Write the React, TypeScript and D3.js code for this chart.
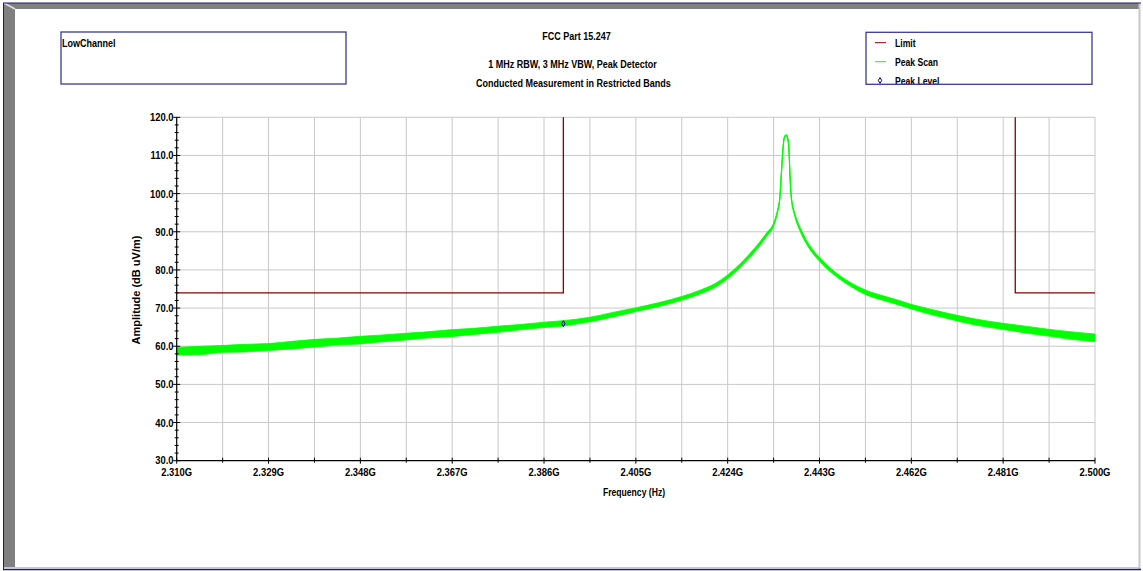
import React from "react";
import * as d3 from "d3";

// ---------- data ----------
const traceFreq = [2.3100, 2.3150, 2.3195, 2.3240, 2.3290, 2.3340, 2.3386, 2.3430, 2.3479, 2.3520, 2.3562, 2.3610, 2.3665, 2.3715, 2.3769, 2.3810, 2.3860, 2.3899, 2.3955, 2.4000, 2.4051, 2.4100, 2.4146, 2.4183, 2.4215, 2.4240, 2.4265, 2.4286, 2.4305, 2.4321, 2.4334, 2.4343, 2.4348, 2.4351, 2.4354, 2.4357, 2.4361, 2.4364, 2.4367, 2.4369, 2.4372, 2.4379, 2.4390, 2.4403, 2.4415, 2.4430, 2.4458, 2.4493, 2.4526, 2.4562, 2.4597, 2.4619, 2.4660, 2.4700, 2.4750, 2.4810, 2.4860, 2.4907, 2.4950, 2.5000];
const traceLevel = [58.7, 58.9, 59.3, 59.5, 59.8, 60.3, 60.8, 61.2, 61.6, 62.0, 62.4, 62.9, 63.4, 63.9, 64.5, 65.0, 65.6, 66.0, 67.0, 68.2, 69.6, 71.0, 72.6, 74.2, 76.0, 78.2, 81.0, 83.8, 86.6, 89.3, 91.6, 95.3, 99.0, 105.0, 111.0, 114.6, 115.3, 114.6, 111.0, 104.5, 98.6, 94.4, 90.6, 87.3, 85.0, 82.8, 79.4, 76.3, 74.1, 72.6, 71.3, 70.4, 69.0, 67.8, 66.4, 65.2, 64.3, 63.5, 62.8, 62.2];
const traceSpread = [1.0, 1.1, 0.9, 1.0, 0.9, 1.0, 1.0, 0.9, 1.0, 0.9, 0.9, 0.8, 0.9, 0.8, 0.8, 0.7, 0.7, 0.7, 0.6, 0.6, 0.5, 0.5, 0.5, 0.5, 0.5, 0.5, 0.5, 0.5, 0.5, 0.5, 0.4, 0.3, 0.2, 0.2, 0.2, 0.2, 0.2, 0.2, 0.2, 0.2, 0.3, 0.4, 0.5, 0.5, 0.5, 0.5, 0.5, 0.5, 0.6, 0.6, 0.6, 0.6, 0.7, 0.7, 0.8, 0.8, 0.9, 0.9, 1.0, 1.0];

const limitLevel = 74;
const limitLowEdge = 2.390;
const limitHighEdge = 2.4835;
const peakLevelFreq = [2.3900];
const peakLevelValue = [65.9];

const xTickValues = [2.310, 2.329, 2.348, 2.367, 2.386, 2.405, 2.424, 2.443, 2.462, 2.481, 2.500];
const yTickValues = [30, 40, 50, 60, 70, 80, 90, 100, 110, 120];

const titleLines = ["FCC Part 15.247", "1 MHz RBW, 3 MHz VBW, Peak Detector", "Conducted Measurement in Restricted Bands"];
const legendLabels = ["Limit", "Peak Scan", "Peak Level"];

// ---------- layout ----------
const W = 1143;
const H = 571;
const X0 = 176.7, X1 = 1095;
const Y0 = 460.7, Y1 = 117.3;
const FONT = "'Liberation Sans', Arial, Helvetica, sans-serif";

function T({ x, y, size = 11, anchor = "start", sx = 0.82, sy = 1, weight = "bold", rotate = 0, fill = "#000", children }: any) {
  const tr = `translate(${x},${y})${rotate ? ` rotate(${rotate})` : ""} scale(${sx},${sy})`;
  return (
    <text transform={tr} fontSize={size} fontWeight={weight} textAnchor={anchor} fontFamily={FONT} fill={fill}>
      {children}
    </text>
  );
}

export default function App() {
  const x = d3.scaleLinear().domain([2.31, 2.5]).range([X0, X1]);
  const y = d3.scaleLinear().domain([30, 120]).range([Y0, Y1]);

  const pts = traceFreq.map((f, i) => ({ f, v: traceLevel[i], s: traceSpread[i] }));
  const band = d3.area<any>().curve(d3.curveMonotoneX).x((d) => x(d.f)).y0((d) => y(d.v - d.s)).y1((d) => y(d.v + d.s));
  const line = d3.line<any>().curve(d3.curveMonotoneX).x((d) => x(d.f)).y((d) => y(d.v));

  const minorX = d3.range(xTickValues.length - 1).map((i) => (xTickValues[i] + xTickValues[i + 1]) / 2);
  const minorY = d3.range(30, 121, 2).filter((v) => v % 10 !== 0);

  const limitA = d3.line<any>()([[x(2.31), y(limitLevel)], [x(limitLowEdge), y(limitLevel)], [x(limitLowEdge), y(120)]] as any);
  const limitB = d3.line<any>()([[x(limitHighEdge), y(120)], [x(limitHighEdge), y(limitLevel)], [x(2.5), y(limitLevel)]] as any);

  const diamond = d3.symbol().type(d3.symbolDiamond).size(10)();

  const gridColor = "#c8c8c8";

  return (
    <svg width={W} height={H} style={{ position: "absolute", left: 0, top: 0, background: "#fff" }}>
      {/* window frame */}
      <rect x={0} y={0} width={W} height={H} fill="#fff" />
      <rect x={3} y={3} width={1137} height={6} fill="#808080" />
      <rect x={4} y={3} width={11} height={565} fill="#808080" />
      <path d="M4,3 L15,9" stroke="#e0e0e0" strokeWidth={1.5} />
      <line x1={1139.5} y1={3} x2={1139.5} y2={569} stroke="#c8c8c8" strokeWidth={2} />
      <line x1={4} y1={567.5} x2={1140} y2={567.5} stroke="#c8c8c8" strokeWidth={1} />
      <line x1={3} y1={3} x2={1141} y2={3} stroke="#1a1a70" strokeWidth={1} />
      <line x1={3.5} y1={3} x2={3.5} y2={570} stroke="#1a1a70" strokeWidth={1} />
      <line x1={3} y1={569.5} x2={1141} y2={569.5} stroke="#1a1a70" strokeWidth={1.5} />

      {/* Low channel box */}
      <rect x={61} y={32} width={285} height={52} fill="#fff" stroke="#3a3a9a" strokeWidth={1.3} />
      <T x={62} y={46.5} size={11}>LowChannel</T>

      {/* titles */}
      <T x={576.5} y={40} anchor="middle">{titleLines[0]}</T>
      <T x={572.5} y={68} anchor="middle">{titleLines[1]}</T>
      <T x={573.3} y={86.5} anchor="middle">{titleLines[2]}</T>

      {/* legend */}
      <g>
        <rect x={866} y={32.3} width={226} height={52} fill="#fff" stroke="none" />
        <line x1={875} x2={886} y1={42.7} y2={42.7} stroke="#8b0000" strokeWidth={1} />
        <line x1={875} x2={886} y1={61.7} y2={61.7} stroke="#00ff00" strokeWidth={1} />
        <path d={diamond!} transform="translate(880,80.5)" fill="none" stroke="#000080" strokeWidth={1} />
        <T x={895} y={47.3} size={10.5} sy={1.1}>{legendLabels[0]}</T>
        <T x={895} y={66} size={10.5} sy={1.1}>{legendLabels[1]}</T>
        <T x={895} y={85} size={10.5} sy={1.1}>{legendLabels[2]}</T>
        <rect x={866} y={32.3} width={226} height={52} fill="none" stroke="#3a3a9a" strokeWidth={1.3} />
      </g>

      {/* grid */}
      {yTickValues.slice(1).map((v) => (
        <line key={"gy" + v} x1={X0} x2={X1} y1={y(v)} y2={y(v)} stroke={gridColor} strokeWidth={1} />
      ))}
      {[...xTickValues.slice(1), ...minorX].map((v, i) => (
        <line key={"gx" + i} x1={x(v)} x2={x(v)} y1={Y1} y2={Y0} stroke={gridColor} strokeWidth={1} />
      ))}

      {/* limit */}
      <path d={limitA!} fill="none" stroke="#8b0000" strokeWidth={1.3} />
      <path d={limitB!} fill="none" stroke="#8b0000" strokeWidth={1.3} />

      {/* trace */}
      <path d={band(pts)!} fill="#00ff00" stroke="#00ff00" strokeWidth={0.8} />
      <path d={line(pts)!} fill="none" stroke="#00ff00" strokeWidth={1.2} />

      {/* peak level marker */}
      {peakLevelFreq.map((f, i) => (
        <path key={"pk" + i} d={diamond!} transform={`translate(${x(f)},${y(peakLevelValue[i])})`} fill="none" stroke="#000080" strokeWidth={1} />
      ))}

      {/* axes */}
      <line x1={X0} x2={X0} y1={Y1} y2={Y0} stroke="#000" strokeWidth={1.2} />
      <line x1={X0} x2={X1} y1={Y0} y2={Y0} stroke="#000" strokeWidth={1.2} />
      {yTickValues.map((v) => (
        <g key={"yt" + v}>
          <line x1={X0 - 3.5} x2={X0 + 3.5} y1={y(v)} y2={y(v)} stroke="#000" strokeWidth={1} />
          <T x={173.5} y={y(v) + (v === 30 ? 3 : 4)} size={11.5} anchor="end">{d3.format(".1f")(v)}</T>
        </g>
      ))}
      {minorY.map((v) => (
        <line key={"ym" + v} x1={X0 - 2} x2={X0 + 2} y1={y(v)} y2={y(v)} stroke="#000" strokeWidth={1} />
      ))}
      {xTickValues.map((v) => (
        <g key={"xt" + v}>
          <line x1={x(v)} x2={x(v)} y1={Y0 - 3} y2={Y0 + 3} stroke="#000" strokeWidth={1} />
          <T x={x(v)} y={476} size={11.5} anchor="middle">{d3.format(".3f")(v) + "G"}</T>
        </g>
      ))}
      {minorX.map((v, i) => (
        <line key={"xm" + i} x1={x(v)} x2={x(v)} y1={Y0 - 3} y2={Y0 + 2} stroke="#000" strokeWidth={1} />
      ))}

      {/* axis titles */}
      <T x={139.5} y={290} size={11} sx={1} rotate={-90} anchor="middle">Amplitude (dB uV/m)</T>
      <T x={634} y={496} size={10.5} sy={1.1} anchor="middle">Frequency (Hz)</T>
    </svg>
  );
}
